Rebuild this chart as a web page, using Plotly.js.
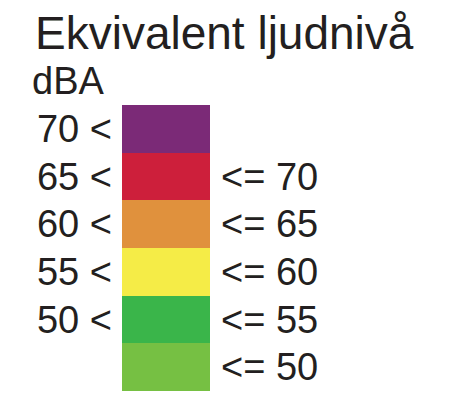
<!DOCTYPE html>
<html>
<head>
<meta charset="utf-8">
<script src="https://cdn.plot.ly/plotly-3.0.1.min.js"></script>
<style>
  html, body { margin: 0; padding: 0; background: #ffffff; }
  #chart { width: 461px; height: 405px; }
</style>
</head>
<body>
<div id="chart"></div>
<script>
// Legend classes, top to bottom
var classes = ['gt70', '65-70', '60-65', '55-60', '50-55', 'le50'];
var lowerLabels = ['70 <', '65 <', '60 <', '55 <', '50 <', ''];
var upperLabels = ['', '<= 70', '<= 65', '<= 60', '<= 55', '<= 50'];
var bandWidth = [1, 1, 1, 1, 1, 1];
var bandColors = ['#7B2A77', '#CD1F3B', '#E0913D', '#F5EC47', '#3AB54A', '#76C043'];

var titleText = 'Ekvivalent ljudnivå';
var unitText = 'dBA';

var W = 461, H = 405;
var font = 'Liberation Sans, Arial, sans-serif';
var textColor = '#231F20';

var traces = [
  {
    type: 'bar', orientation: 'h',
    y: classes, x: bandWidth,
    marker: { color: bandColors, line: { width: 0 } },
    hoverinfo: 'skip', showlegend: false,
    xaxis: 'x', yaxis: 'y'
  },
  {
    type: 'bar', orientation: 'h',
    y: classes, x: bandWidth,
    marker: { color: bandColors, line: { width: 0 } },
    hoverinfo: 'skip', showlegend: false,
    xaxis: 'x', yaxis: 'y2'
  }
];

var layout = {
  width: W, height: H,
  margin: { l: 122, r: 251, t: 105, b: 14, pad: 0 },
  paper_bgcolor: '#ffffff', plot_bgcolor: '#ffffff',
  bargap: 0,
  barmode: 'overlay',
  showlegend: false,
  font: { family: font, color: textColor },
  title: {
    text: titleText,
    font: { family: font, size: 46, color: textColor },
    x: 35 / W, xanchor: 'left', xref: 'container',
    y: 1 - 17 / H, yanchor: 'top', yref: 'container',
    pad: { t: 0, b: 0, l: 0, r: 0 }
  },
  xaxis: {
    range: [0, 1], visible: false, fixedrange: true
  },
  yaxis: {
    type: 'category', categoryorder: 'array', categoryarray: classes,
    autorange: 'reversed',
    tickmode: 'array', tickvals: classes, ticktext: lowerLabels,
    ticks: '', showgrid: false, zeroline: false, showline: false,
    ticklabelstandoff: 9,
    tickfont: { family: font, size: 38, color: textColor }
  },
  yaxis2: {
    type: 'category', categoryorder: 'array', categoryarray: classes,
    autorange: 'reversed',
    overlaying: 'y', side: 'right', anchor: 'x',
    tickmode: 'array', tickvals: classes, ticktext: upperLabels,
    ticks: '', showgrid: false, zeroline: false, showline: false,
    ticklabelstandoff: 10,
    tickfont: { family: font, size: 38, color: textColor }
  },
  annotations: [
    {
      text: unitText, showarrow: false,
      xref: 'paper', yref: 'paper',
      x: (30 - 122) / 88, xanchor: 'left',
      y: 1 + (105 - 58) / 286, yanchor: 'top',
      font: { family: font, size: 38, color: textColor }
    }
  ]
};

Plotly.newPlot('chart', traces, layout, { displayModeBar: false, staticPlot: true });
</script>
</body>
</html>
